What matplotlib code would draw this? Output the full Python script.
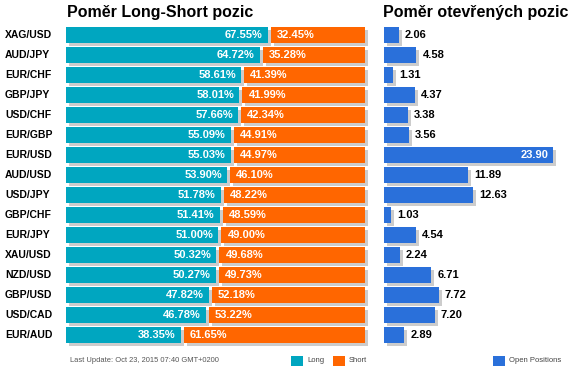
import matplotlib
matplotlib.use("Agg")
import matplotlib.pyplot as plt
from matplotlib.transforms import ScaledTranslation, blended_transform_factory
from matplotlib.patches import Rectangle

pairs = ["XAG/USD", "AUD/JPY", "EUR/CHF", "GBP/JPY", "USD/CHF", "EUR/GBP", "EUR/USD", "AUD/USD",
         "USD/JPY", "GBP/CHF", "EUR/JPY", "XAU/USD", "NZD/USD", "GBP/USD", "USD/CAD", "EUR/AUD"]
long_pct = [67.55, 64.72, 58.61, 58.01, 57.66, 55.09, 55.03, 53.90, 51.78, 51.41, 51.00, 50.32, 50.27, 47.82, 46.78, 38.35]
short_pct = [32.45, 35.28, 41.39, 41.99, 42.34, 44.91, 44.97, 46.10, 48.22, 48.59, 49.00, 49.68, 49.73, 52.18, 53.22, 61.65]
open_pos = [2.06, 4.58, 1.31, 4.37, 3.38, 3.56, 23.90, 11.89, 12.63, 1.03, 4.54, 2.24, 6.71, 7.72, 7.20, 2.89]

plt.rcParams['font.family'] = ['Liberation Sans', 'DejaVu Sans']

W, H = 575, 372
fig = plt.figure(figsize=(W / 100, H / 100), dpi=100)
TEAL = "#00A6C0"
ORANGE = "#FF6600"
BLUE = "#2A70DA"
SHADOW = "#CCCCCC"

n = len(pairs)
top_px = 24.7
row_px = 20.0
ax_h = n * row_px
bottom = (H - top_px - ax_h) / H

shadow_tr = ScaledTranslation(3 / 100, -3 / 100, fig.dpi_scale_trans)

# Left panel
axL = fig.add_axes([66 / W, bottom, 299 / W, ax_h / H])
axL.set_xlim(0, 100)
axL.set_ylim(n - 0.5, -0.5)
axL.axis('off')
gap = 1.0
bh = 0.8
for i in range(n):
    L = long_pct[i]
    for x0, w in [(0, L), (L + gap, 100 - L - gap)]:
        axL.add_patch(Rectangle((x0, i - bh / 2), w, bh, facecolor=SHADOW, edgecolor='none',
                                transform=axL.transData + shadow_tr, clip_on=False, zorder=1))
for i in range(n):
    L = long_pct[i]
    axL.barh(i, L, height=bh, color=TEAL, zorder=2)
    axL.barh(i, 100 - L - gap, left=L + gap, height=bh, color=ORANGE, zorder=2)
    axL.text(L - 1.8, i, f"{long_pct[i]:.2f}%", color='white', fontsize=8, fontweight='bold',
             ha='right', va='center', zorder=3)
    axL.text(L + gap + 2.0, i, f"{short_pct[i]:.2f}%", color='white', fontsize=8, fontweight='bold',
             ha='left', va='center', zorder=3)

btr = blended_transform_factory(fig.transFigure, axL.transData)
for i in range(n):
    axL.text(5 / W, i, pairs[i], transform=btr, fontsize=7.5, fontweight='bold', color='black',
             ha='left', va='center', clip_on=False)

fig.text(67 / W, 1 - 13 / H, "Poměr Long-Short pozic", fontsize=11.5, fontweight='bold',
         ha='left', va='center')

# Right panel
xmax = 191 / 169 * 23.90
axR = fig.add_axes([384 / W, bottom, 191 / W, ax_h / H])
axR.set_xlim(0, xmax)
axR.set_ylim(n - 0.5, -0.5)
axR.axis('off')
for i in range(n):
    axR.add_patch(Rectangle((0, i - bh / 2), open_pos[i], bh, facecolor=SHADOW, edgecolor='none',
                            transform=axR.transData + shadow_tr, clip_on=False, zorder=1))
vmax = max(open_pos)
for i in range(n):
    v = open_pos[i]
    axR.barh(i, v, height=bh, color=BLUE, zorder=2)
    if v == vmax:
        axR.text(v - 0.6, i, f"{v:.2f}", color='white', fontsize=8, fontweight='bold',
                 ha='right', va='center', zorder=3)
    else:
        axR.text(v + 0.85, i, f"{v:.2f}", color='black', fontsize=8, fontweight='bold',
                 ha='left', va='center', zorder=3, clip_on=False)

fig.text(383 / W, 1 - 13 / H, "Poměr otevřených pozic", fontsize=11.5, fontweight='bold',
         ha='left', va='center')

# Footer
fig.text(70 / W, 1 - 361 / H, "Last Update: Oct 23, 2015 07:40 GMT+0200", fontsize=5.4,
         color='#555555', ha='left', va='center')


def legend_box(x, color, label):
    fig.patches.append(Rectangle((x / W, 1 - 366 / H), 12 / W, 10 / H, facecolor=color,
                                 edgecolor='none', transform=fig.transFigure))
    fig.text((x + 16) / W, 1 - 361 / H, label, fontsize=5.5, color='#444444', ha='left', va='center')


legend_box(291, TEAL, "Long")
legend_box(333, ORANGE, "Short")
legend_box(493, BLUE, "Open Positions")

fig.savefig("out.png", dpi=100)
